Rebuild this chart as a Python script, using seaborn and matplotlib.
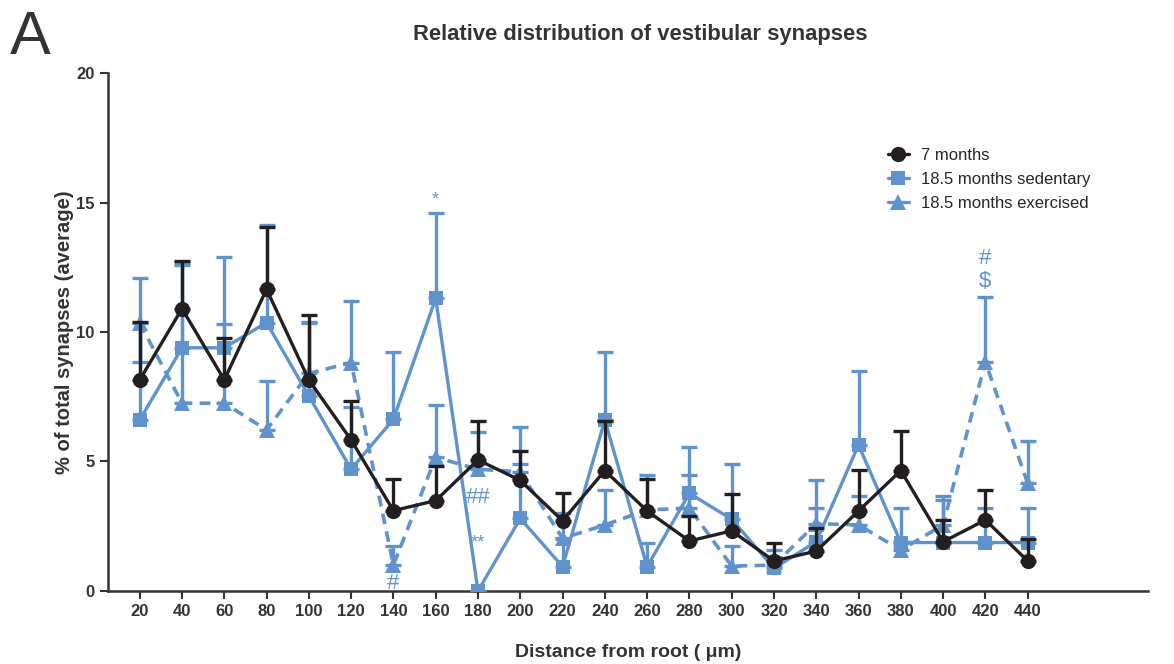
import numpy as np
import pandas as pd
import matplotlib
matplotlib.use("Agg")
import matplotlib.pyplot as plt
import seaborn as sns
from matplotlib.lines import Line2D

# distancia desde la raiz (um)
distance = [20, 40, 60, 80, 100, 120, 140, 160, 180, 200, 220,
            240, 260, 280, 300, 320, 340, 360, 380, 400, 420, 440]

# 7 meses
m7_mean = [8.15, 10.9, 8.15, 11.65, 8.15, 5.83, 3.1, 3.49, 5.06, 4.27, 2.71,
           4.65, 3.09, 1.93, 2.32, 1.16, 1.54, 3.09, 4.65, 1.9, 2.74, 1.16]
m7_err = [2.25, 1.85, 1.63, 2.39, 2.51, 1.52, 1.22, 1.35, 1.52, 1.15, 1.06,
          1.9, 1.23, 0.97, 1.41, 0.68, 0.91, 1.58, 1.54, 0.84, 1.16, 0.84]

# 18.5 meses sedentarios
sed_mean = [6.6, 9.39, 9.39, 10.36, 7.53, 4.7, 6.63, 11.3, 0.0, 2.8, 0.94,
            6.6, 0.94, 3.77, 2.77, 0.88, 1.9, 5.64, 1.87, 1.87, 1.87, 1.87]
sed_err = [5.47, 3.27, 3.49, 3.77, 2.87, 2.42, 2.58, 3.31, 0.0, 3.55, 1.06,
           2.61, 0.93, 1.8, 2.13, 0.72, 2.39, 2.85, 1.32, 1.8, 1.32, 1.32]

# 18.5 meses con ejercicio
exe_mean = [10.35, 7.25, 7.25, 6.22, 8.4, 8.82, 1.0, 5.16, 4.7, 4.6, 2.03,
            2.55, 3.13, 3.2, 0.96, 1.0, 2.6, 2.55, 1.58, 2.55, 8.85, 4.16]
exe_err_up = [0.0, 5.35, 3.05, 1.9, 1.95, 2.38, 0.74, 2.04, 1.45, 0.3, 0.97,
              1.35, 1.35, 1.28, 0.78, 0.3, 0.6, 1.12, 0.32, 0.95, 2.49, 1.63]
exe_err_low = [1.5] + [0.0] * 21

# anotaciones estadisticas (texto, x, y)
marks = ["*", "##", "**", "#", "#", "$"]
marks_x = [160, 180, 180, 140, 420, 420]
marks_y = [15.1, 3.6, 1.85, 0.3, 12.85, 11.95]

black = "#231f20"
blue = "#6093cc"
grey = "#333333"

sns.set_style("ticks")
plt.rcParams["font.family"] = ["Liberation Sans", "DejaVu Sans"]

fig = plt.figure(figsize=(11.74, 6.64), dpi=100)
ax = fig.add_axes([0.092, 0.110, 0.886, 0.780])

zero = [0.0] * len(distance)

# ejercitados (linea discontinua)
ax.errorbar(distance, exe_mean, yerr=[exe_err_low, exe_err_up], fmt="none",
            ecolor=blue, elinewidth=2.4, capsize=6, capthick=2.4, zorder=2)
sns.lineplot(x=distance, y=exe_mean, ax=ax, color=blue, marker="^",
             markersize=11, markeredgewidth=0, linewidth=2.6,
             linestyle=(0, (3, 2)), zorder=3)

# sedentarios
ax.errorbar(distance, sed_mean, yerr=[zero, sed_err], fmt="none",
            ecolor=blue, elinewidth=2.4, capsize=6, capthick=2.4, zorder=4)
sns.lineplot(x=distance, y=sed_mean, ax=ax, color=blue, marker="s",
             markersize=10, markeredgewidth=0, linewidth=2.4, zorder=5)

# 7 meses
ax.errorbar(distance, m7_mean, yerr=[zero, m7_err], fmt="none",
            ecolor=black, elinewidth=2.4, capsize=6, capthick=2.4, zorder=6)
sns.lineplot(x=distance, y=m7_mean, ax=ax, color=black, marker="o",
             markersize=11, markeredgewidth=0, linewidth=2.4, zorder=7)

for t, xx, yy in zip(marks, marks_x, marks_y):
    fs = 13 if t in ("*", "**") else 16
    ax.text(xx, yy, t, color=blue, fontsize=fs, ha="center", va="center",
            zorder=8)

ax.set_xlim(5, 497)
ax.set_ylim(0, 20)
ax.set_xticks(distance)
ax.set_yticks([0, 5, 10, 15, 20])
ax.tick_params(direction="out", length=6, width=1.5, color=grey,
               labelsize=12, labelcolor=grey)
for lab in ax.get_xticklabels() + ax.get_yticklabels():
    lab.set_fontweight("bold")
for s in ["top", "right"]:
    ax.spines[s].set_visible(False)
for s in ["left", "bottom"]:
    ax.spines[s].set_linewidth(1.8)
    ax.spines[s].set_color(grey)

ax.set_xlabel("Distance from root ( \u03bcm)", fontsize=14, fontweight="bold",
              color=grey, labelpad=18)
ax.set_ylabel("% of total synapses (average)", fontsize=14.5, fontweight="bold",
              color=grey)
ax.yaxis.set_label_coords(-0.033, 0.5)
ax.set_title("Relative distribution of vestibular synapses", fontsize=15.8,
             fontweight="bold", color=grey, pad=24, x=0.512)

handles = [
    Line2D([], [], color=black, marker="o", markersize=11, lw=2.4, markeredgewidth=0),
    Line2D([], [], color=blue, marker="s", markersize=10, lw=2.4, markeredgewidth=0),
    Line2D([], [], color=blue, marker="^", markersize=11, lw=2.4, markeredgewidth=0),
]
labels = ["7 months", "18.5 months sedentary", "18.5 months exercised"]
ax.legend(handles, labels, loc="upper left", bbox_to_anchor=(0.735, 0.885),
          frameon=False, fontsize=12, handlelength=1.3, handletextpad=0.7,
          labelspacing=0.55)

fig.text(0.008, 0.985, "A", fontsize=44, va="top", ha="left", color=grey)

fig.savefig("out.png", dpi=100)
